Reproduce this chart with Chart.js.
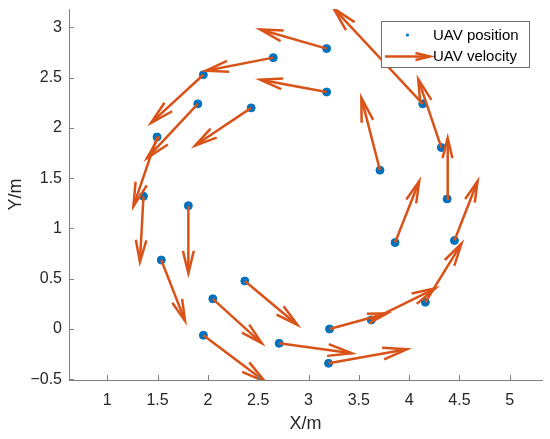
<!DOCTYPE html>
<html>
<head>
<meta charset="utf-8">
<script src="https://cdn.jsdelivr.net/npm/chart.js@4.4.1/dist/chart.umd.min.js"></script>
<style>
  html, body { margin: 0; padding: 0; background: #fff; }
  #wrap { width: 550px; height: 439px; }
</style>
</head>
<body>
<div id="wrap"><canvas id="quiverChart"></canvas></div>
<script>
// UAV positions (m)
const posX = [3.18, 3.18, 2.65, 1.955, 1.90, 2.43, 1.495, 1.36, 1.806, 1.537, 2.049, 1.955,
              2.367, 2.708, 3.199, 3.209, 3.624, 4.161, 4.45, 3.86, 4.377, 4.32, 4.135, 3.71];
const posY = [2.79, 2.358, 2.70, 2.53, 2.24, 2.20, 1.91, 1.32, 1.227, 0.686, 0.30, -0.063,
              0.477, -0.143, -0.342, 0.0, 0.09, 0.266, 0.88, 0.86, 1.294, 1.805, 2.24, 1.58];
// UAV velocity, drawn as arrow offsets
const velU = [-0.66, -0.66, -0.67, -0.52, -0.505, -0.557, -0.235, -0.035, 0.0, 0.236, 0.487, 0.614,
              0.523, 0.724, 0.78, 0.571, 0.636, 0.359, 0.23, 0.24, 0.006, -0.23, -0.885, -0.185];
const velV = [0.19, 0.122, -0.13, -0.48, -0.54, -0.375, -0.69, -0.65, -0.672, -0.606, -0.443, -0.462,
              -0.437, -0.099, 0.14, 0.156, 0.315, 0.584, 0.59, 0.61, 0.606, 0.681, 0.95, 0.72];

const xTicks = [1, 1.5, 2, 2.5, 3, 3.5, 4, 4.5, 5];
const yTicks = [-0.5, 0, 0.5, 1, 1.5, 2, 2.5, 3];
const xRange = [0.62, 5.32];
const yRange = [-0.508, 3.184];

const BLUE = '#0072BD';
const ORANGE = '#D95319';
const AXIS = '#808080';
const TEXT = '#262626';
const FONT = "'Liberation Sans', Arial, sans-serif";

// points and arrow shafts
const points = posX.map((x, i) => ({ x: x, y: posY[i] }));
const shafts = [];
posX.forEach((x, i) => {
    shafts.push({ x: x, y: posY[i] });
    shafts.push({ x: x + velU[i], y: posY[i] + velV[i] });
    shafts.push({ x: x, y: null });
});

function drawHead(ctx, x0, y0, x1, y1, maxLen) {
    const dx = x1 - x0, dy = y1 - y0;
    const len = Math.hypot(dx, dy);
    const head = Math.min(0.34 * len, maxLen);
    const ang = Math.atan2(dy, dx);
    const spread = 0.24;
    ctx.beginPath();
    ctx.moveTo(x1 - head * Math.cos(ang - spread), y1 - head * Math.sin(ang - spread));
    ctx.lineTo(x1, y1);
    ctx.lineTo(x1 - head * Math.cos(ang + spread), y1 - head * Math.sin(ang + spread));
    ctx.stroke();
}

const quiverPlugin = {
    id: 'quiver',
    afterDatasetsDraw(chart) {
        const { ctx, chartArea: a, scales: { x, y } } = chart;
        ctx.save();
        ctx.beginPath();
        ctx.rect(a.left, a.top, a.right - a.left, a.bottom - a.top);
        ctx.clip();
        ctx.strokeStyle = ORANGE;
        ctx.lineWidth = 2.5;
        ctx.lineJoin = 'miter';
        ctx.lineCap = 'butt';
        posX.forEach((px, i) => {
            const x0 = x.getPixelForValue(px), y0 = y.getPixelForValue(posY[i]);
            const x1 = x.getPixelForValue(px + velU[i]), y1 = y.getPixelForValue(posY[i] + velV[i]);
            drawHead(ctx, x0, y0, x1, y1, 25);
        });
        ctx.restore();
    },
    afterDraw(chart) {
        const { ctx, chartArea: a, scales: { x, y } } = chart;
        ctx.save();
        // inward tick marks
        ctx.strokeStyle = AXIS;
        ctx.lineWidth = 1;
        ctx.beginPath();
        xTicks.forEach(v => {
            const px = Math.round(x.getPixelForValue(v)) + 0.5;
            ctx.moveTo(px, a.bottom);
            ctx.lineTo(px, a.bottom - 5);
        });
        yTicks.forEach(v => {
            const py = Math.round(y.getPixelForValue(v)) + 0.5;
            ctx.moveTo(a.left, py);
            ctx.lineTo(a.left + 5, py);
        });
        ctx.stroke();

        // legend
        const lx = 381.5, ly = 21.5, lw = 148, lh = 46;
        ctx.fillStyle = '#fff';
        ctx.fillRect(lx, ly, lw, lh);
        ctx.strokeStyle = '#6e6e6e';
        ctx.lineWidth = 1;
        ctx.strokeRect(lx, ly, lw, lh);

        ctx.fillStyle = BLUE;
        ctx.beginPath();
        ctx.arc(407.5, 35, 1.6, 0, Math.PI * 2);
        ctx.fill();

        ctx.strokeStyle = ORANGE;
        ctx.lineWidth = 2.5;
        ctx.beginPath();
        ctx.moveTo(385, 56.5);
        ctx.lineTo(430, 56.5);
        ctx.stroke();
        drawHead(ctx, 385, 56.5, 430, 56.5, 15);

        ctx.fillStyle = '#000';
        ctx.font = '15px ' + FONT;
        ctx.textBaseline = 'middle';
        ctx.textAlign = 'left';
        ctx.fillText('UAV position', 433, 35.5);
        ctx.fillText('UAV velocity', 433, 57);
        ctx.restore();
    }
};

const fmt = v => (v < 0 ? '\u2212' + Math.abs(v) : String(v));

new Chart(document.getElementById('quiverChart'), {
    type: 'scatter',
    data: {
        datasets: [
            {
                type: 'line',
                label: 'UAV velocity',
                data: shafts,
                borderColor: ORANGE,
                borderWidth: 2.5,
                pointRadius: 0,
                spanGaps: false,
                tension: 0
            },
            {
                label: 'UAV position',
                data: points,
                backgroundColor: BLUE,
                borderColor: BLUE,
                pointRadius: 4,
                pointHoverRadius: 4
            }
        ]
    },
    options: {
        responsive: true,
        maintainAspectRatio: false,
        animation: false,
        events: [],
        layout: { padding: { top: 9, right: 8, left: 0, bottom: 0 } },
        plugins: { legend: { display: false }, tooltip: { enabled: false } },
        scales: {
            x: {
                type: 'linear',
                min: xRange[0],
                max: xRange[1],
                grid: { display: false, drawTicks: false },
                border: { display: true, color: AXIS, width: 1 },
                afterBuildTicks: s => { s.ticks = xTicks.map(v => ({ value: v })); },
                afterFit: s => { s.height = 59; s.paddingLeft = 0; s.paddingRight = 0; },
                ticks: { color: TEXT, font: { family: FONT, size: 16 }, padding: 11, callback: fmt, maxRotation: 0 },
                title: { display: true, text: 'X/m', color: TEXT, font: { family: FONT, size: 18 }, padding: { top: 0, bottom: 4 } }
            },
            y: {
                type: 'linear',
                min: yRange[0],
                max: yRange[1],
                grid: { display: false, drawTicks: false },
                border: { display: true, color: AXIS, width: 1 },
                afterBuildTicks: s => { s.ticks = yTicks.map(v => ({ value: v })); },
                afterFit: s => { s.width = 69; s.paddingTop = 0; s.paddingBottom = 0; },
                ticks: { color: TEXT, font: { family: FONT, size: 16 }, padding: 7, callback: fmt },
                title: { display: true, text: 'Y/m', color: TEXT, font: { family: FONT, size: 18 }, padding: { top: 5, bottom: 0 } }
            }
        }
    },
    plugins: [quiverPlugin]
});
</script>
</body>
</html>
